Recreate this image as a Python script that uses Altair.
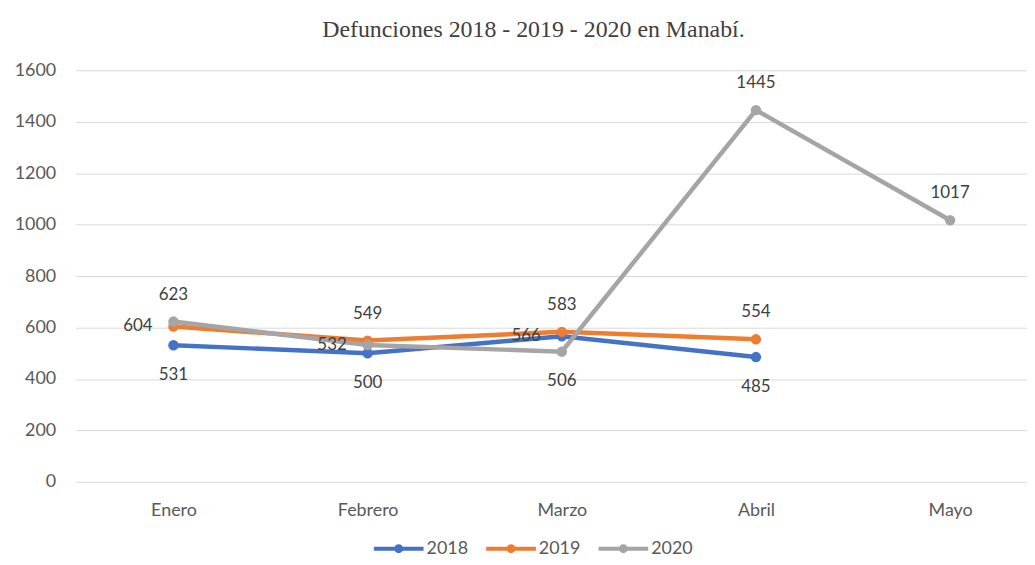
import altair as alt
import pandas as pd

months = ["Enero", "Febrero", "Marzo", "Abril", "Mayo"]
years = ["2018", "2019", "2020"]
v2018 = [531, 500, 566, 485]
v2019 = [604, 549, 583, 554]
v2020 = [623, 532, 506, 1445, 1017]
# label placement relative to the point
p2018 = ["below", "below", "left", "below"]
p2019 = ["left", "above", "above", "above"]
p2020 = ["above", "left", "below", "above", "above"]
colors = ["#4472C4", "#ED7D31", "#A5A5A5"]

rows = []
for yr, vals, pls in zip(years, [v2018, v2019, v2020], [p2018, p2019, p2020]):
    for i, (v, p) in enumerate(zip(vals, pls)):
        rows.append({"mes": months[i], "año": yr, "valor": v, "pos": p})
df = pd.DataFrame(rows)

FONT = "Lato"
x = alt.X("mes:N", sort=months, title=None,
          scale=alt.Scale(type="point", domain=months, padding=0.45, align=0.56),
          axis=alt.Axis(labelAngle=0, ticks=False, domain=False, grid=False,
                        labelPadding=20, labelFontSize=18, labelColor="#595959",
                        labelFont=FONT))
y = alt.Y("valor:Q", title=None,
          scale=alt.Scale(domain=[0, 1600], nice=False),
          axis=alt.Axis(values=list(range(0, 1601, 200)), format="d", ticks=False, domain=False,
                        gridColor="#D9D9D9", gridWidth=1, labelPadding=20,
                        labelFontSize=18, labelColor="#595959", labelFont=FONT))
color = alt.Color("año:N", scale=alt.Scale(domain=years, range=colors),
                  legend=alt.Legend(title=None, orient="none", direction="horizontal",
                                    legendX=316, legendY=472,
                                    symbolType="M-5,0H5M0.5,0A0.5,0.5,0,1,1,-0.5,0A0.5,0.5,0,1,1,0.5,0",
                                    symbolSize=100, symbolStrokeWidth=4,
                                    labelOffset=19, columnPadding=10, padding=0,
                                    labelFontSize=18, labelColor="#595959", labelFont=FONT))

base = alt.Chart(df).encode(x=x, y=y)
lines = base.mark_line(strokeWidth=4.5).encode(color=color, detail="año:N")
points = base.mark_point(filled=True, size=110, opacity=1).encode(
    color=alt.Color("año:N", scale=alt.Scale(domain=years, range=colors), legend=None))

def lab(pos, **kw):
    return base.mark_text(fontSize=17, color="#404040", font=FONT, **kw).encode(
        text="valor:Q").transform_filter(alt.datum.pos == pos)

labels = [lab("above", dy=-27, baseline="middle"),
          lab("below", dy=30, baseline="middle"),
          lab("left", dx=-21, align="right", baseline="middle")]

chart = alt.layer(lines, points, *labels).properties(
    width=957, height=414,
    title=alt.TitleParams("Defunciones 2018 - 2019 - 2020 en Manabí.",
                          font="Liberation Serif", fontSize=24, fontWeight="normal",
                          color="#404040", anchor="middle", dx=-18, offset=19),
    autosize=alt.AutoSizeParams(type="none"),
    padding={"left": 68, "top": 61, "right": 0, "bottom": 74},
).configure_view(stroke=None)

chart.save("out.html", embed_options={"renderer": "svg", "actions": False})
